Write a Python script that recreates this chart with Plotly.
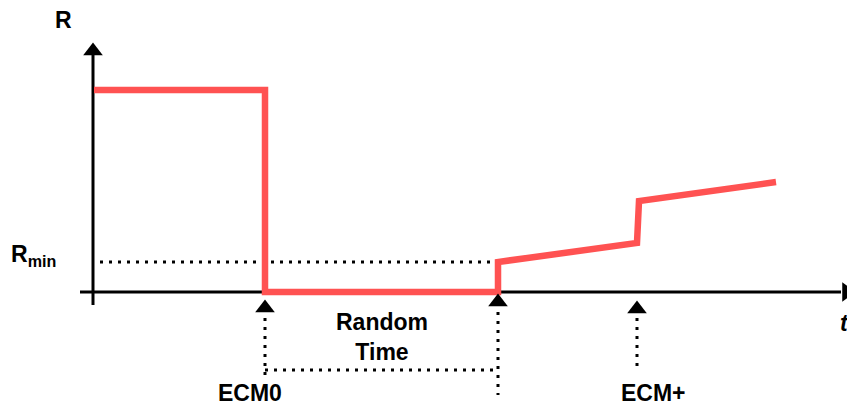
import plotly.graph_objects as go

# Schematic data (t: time units, R: resistance units), origin at axis crossing
resp_t = [1, 172, 172, 405, 405, 544, 546, 683]
resp_R = [202, 202, 0, 0, 30, 49, 91, 110]

rmin_value = 30
rmin_t = [7, 405]

ecm0_t = 172
rand_end_t = 405
ecmplus_t = 544
random_bar_R = -78

labels = {"R": "R", "Rmin": "R<sub>min</sub>", "random": "Random<br>Time",
          "ecm0": "ECM0", "ecmplus": "ECM+", "t": "<i>t</i>"}

RED = "#FF5252"
BLK = "black"
FONT = "Liberation Sans, Arial, sans-serif"

fig = go.Figure()

# axes
fig.add_trace(go.Scatter(x=[0, 0], y=[-13, 237], mode="lines",
                         line=dict(color=BLK, width=3), hoverinfo="skip"))
fig.add_trace(go.Scatter(x=[0], y=[241], mode="markers",
                         marker=dict(symbol="triangle-up", size=17, color=BLK), hoverinfo="skip"))
fig.add_trace(go.Scatter(x=[-13, 748], y=[0, 0], mode="lines",
                         line=dict(color=BLK, width=3), hoverinfo="skip"))
fig.add_trace(go.Scatter(x=[753.5], y=[0], mode="markers", cliponaxis=False,
                         marker=dict(symbol="triangle-right", size=17, color=BLK), hoverinfo="skip"))

# Rmin dotted
dot = dict(color=BLK, width=3, dash="3px,6px")
fig.add_trace(go.Scatter(x=rmin_t, y=[rmin_value, rmin_value], mode="lines",
                         line=dot, hoverinfo="skip"))

# response line
fig.add_trace(go.Scatter(x=resp_t, y=resp_R, mode="lines",
                         line=dict(color=RED, width=6.5), hoverinfo="skip"))

# event arrows
fig.add_trace(go.Scatter(x=[ecm0_t, ecm0_t], y=[-26, -86], mode="lines", line=dot, hoverinfo="skip"))
fig.add_trace(go.Scatter(x=[rand_end_t, rand_end_t], y=[-20, -103], mode="lines", line=dot, hoverinfo="skip"))
fig.add_trace(go.Scatter(x=[ecm0_t, rand_end_t], y=[random_bar_R, random_bar_R], mode="lines", line=dot, hoverinfo="skip"))
fig.add_trace(go.Scatter(x=[ecmplus_t, ecmplus_t], y=[-26, -80], mode="lines", line=dot, hoverinfo="skip"))
fig.add_trace(go.Scatter(x=[ecm0_t, rand_end_t, ecmplus_t], y=[-16, -10, -17], mode="markers",
                         marker=dict(symbol="triangle-up", size=17, color=BLK), hoverinfo="skip"))

ann = [
    dict(x=-30, y=272, text=labels["R"]),
    dict(x=-60, y=37, text=labels["Rmin"]),
    dict(x=289, y=-45, text=labels["random"]),
    dict(x=157, y=-101, text=labels["ecm0"]),
    dict(x=560, y=-101, text=labels["ecmplus"]),
    dict(x=745, y=-31, text=labels["t"], xanchor="left"),
]
for a in ann:
    a.update(showarrow=False, xref="x", yref="y",
             font=dict(family=FONT, size=23, color=BLK))
    a["text"] = "<b>" + a["text"] + "</b>"

fig.update_layout(
    width=847, height=405, margin=dict(l=0, r=0, t=0, b=0),
    paper_bgcolor="white", plot_bgcolor="white", showlegend=False,
    xaxis=dict(range=[-93, 754], visible=False, fixedrange=True),
    yaxis=dict(range=[-113, 292], visible=False, fixedrange=True),
    annotations=ann,
)
fig.write_html(
    "out.html",
    config={"displayModeBar": False, "staticPlot": True},
    post_script="document.body.style.margin='0';document.body.style.overflow='hidden';",
)
